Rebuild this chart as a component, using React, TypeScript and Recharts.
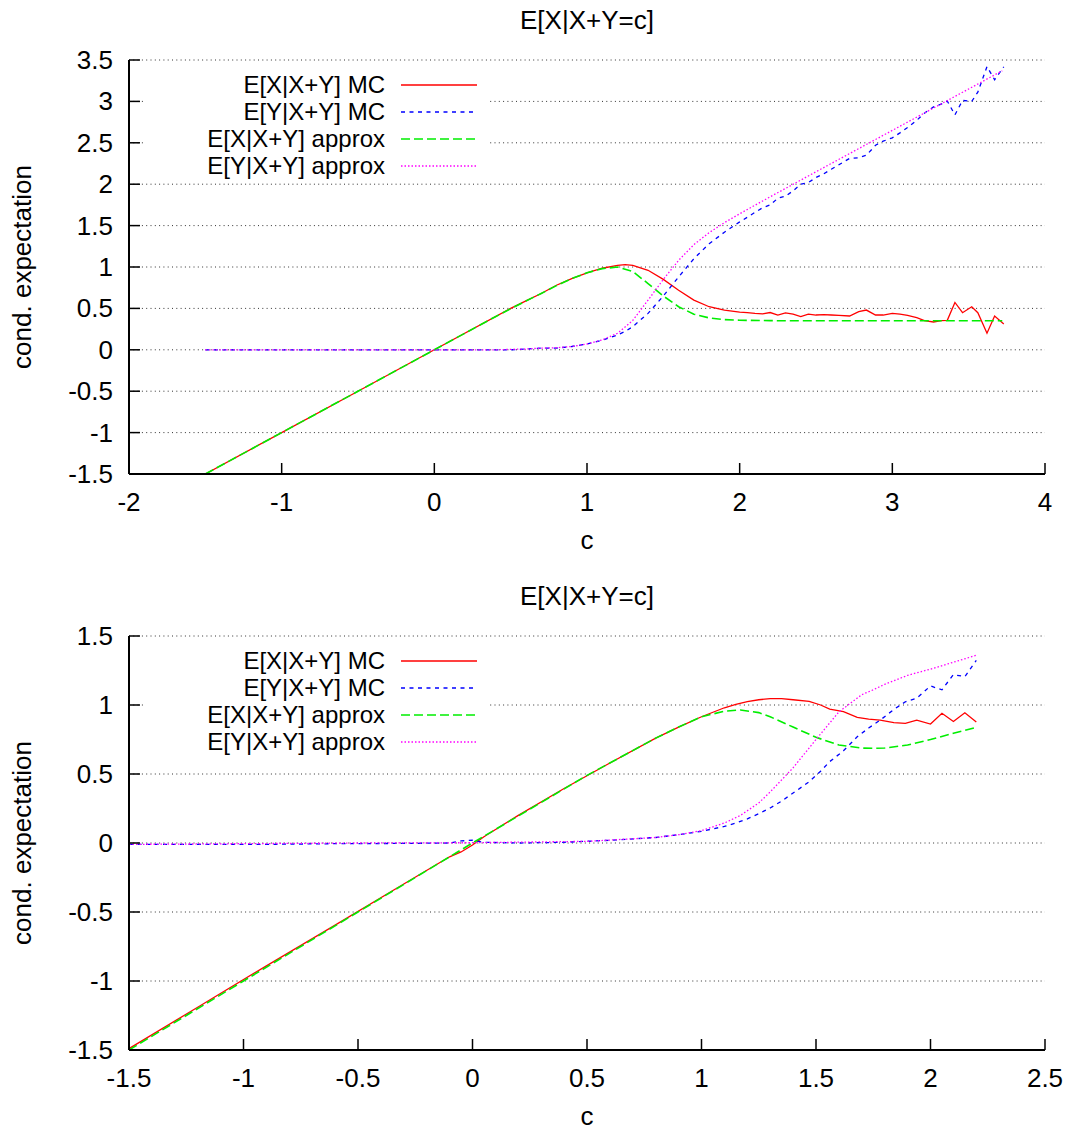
import React from "react";
import { LineChart, Line, XAxis, YAxis, CartesianGrid, Legend } from "recharts";

const FONT = '"Liberation Sans", Arial, Helvetica, sans-serif';
const FS = 26;
const KEY_FS = 24;
const KEY_ROW = 27;

const TITLE = "E[X|X+Y=c]";
const X_LABEL = "c";
const Y_LABEL = "cond. expectation";

// ---------- top panel: c from -1.5 to ~3.7
const topMcC = [
  -1.5, -1, -0.5, 0, 0.5, 0.6, 0.7, 0.8, 0.9, 1.0, 1.1, 1.2, 1.25, 1.3, 1.4,
  1.5, 1.6, 1.7, 1.8, 1.9, 2.0, 2.05, 2.1, 2.15, 2.2, 2.25, 2.3, 2.35, 2.4,
  2.45, 2.5, 2.55, 2.6, 2.65, 2.72, 2.78, 2.83, 2.89, 2.94, 3.0, 3.05, 3.1,
  3.16, 3.21, 3.27, 3.32, 3.36, 3.41, 3.46, 3.52, 3.56, 3.62, 3.67, 3.73,
];
const topXMc = [
  -1.5, -1, -0.5, 0, 0.5, 0.59, 0.68, 0.78, 0.86, 0.93, 0.985, 1.02, 1.028,
  1.02, 0.96, 0.85, 0.72, 0.6, 0.52, 0.48, 0.455, 0.45, 0.44, 0.435, 0.45,
  0.42, 0.445, 0.43, 0.4, 0.43, 0.42, 0.425, 0.42, 0.415, 0.408, 0.46, 0.48,
  0.42, 0.42, 0.44, 0.43, 0.416, 0.388, 0.352, 0.336, 0.352, 0.356, 0.572,
  0.448, 0.52, 0.448, 0.2, 0.408, 0.312,
];
const topYMc = [
  0, 0, 0, 0, 0, 0.01, 0.02, 0.02, 0.04, 0.07, 0.115, 0.18, 0.222, 0.28, 0.44,
  0.65, 0.88, 1.1, 1.28, 1.42, 1.545, 1.6, 1.66, 1.715, 1.75, 1.83, 1.855,
  1.92, 2.0, 2.02, 2.08, 2.125, 2.18, 2.235, 2.312, 2.32, 2.35, 2.47, 2.52,
  2.56, 2.62, 2.684, 2.772, 2.858, 2.934, 2.968, 3.004, 2.838, 3.012, 3.0,
  3.112, 3.42, 3.262, 3.418,
];
const topApproxC = [
  -1.5, -1, -0.5, 0, 0.4, 0.5, 0.6, 0.7, 0.8, 0.9, 1.0, 1.1, 1.2, 1.3, 1.4,
  1.5, 1.6, 1.7, 1.8, 1.9, 2.0, 2.2, 2.5, 3.0, 3.5, 3.72,
];
const topXApprox = [
  -1.5, -1, -0.5, 0, 0.4, 0.495, 0.59, 0.68, 0.775, 0.86, 0.93, 0.98, 1.0,
  0.945, 0.8, 0.65, 0.52, 0.43, 0.385, 0.365, 0.357, 0.352, 0.35, 0.35, 0.35,
  0.35,
];
const topYApprox = [
  0, 0, 0, 0, 0, 0.005, 0.01, 0.02, 0.025, 0.04, 0.07, 0.12, 0.2, 0.355, 0.6,
  0.85, 1.08, 1.27, 1.415, 1.535, 1.643, 1.848, 2.15, 2.65, 3.15, 3.37,
];
const topXTicks = [-2, -1, 0, 1, 2, 3, 4];
const topYTicks = [-1.5, -1, -0.5, 0, 0.5, 1, 1.5, 2, 2.5, 3, 3.5];

// ---------- bottom panel: c from -1.5 to 2.2
const botMcC = [
  -1.5, -1.2, -0.9, -0.6, -0.3, -0.1, -0.05, 0, 0.05, 0.2, 0.4, 0.6, 0.8, 0.9,
  1.0, 1.1, 1.15, 1.2, 1.25, 1.3, 1.35, 1.4, 1.47, 1.52, 1.56, 1.62, 1.68,
  1.73, 1.78, 1.84, 1.89, 1.94, 2.0, 2.05, 2.1, 2.15, 2.2,
];
const botXMc = [
  -1.49, -1.19, -0.89, -0.595, -0.297, -0.1, -0.065, -0.015, 0.045, 0.2,
  0.395, 0.58, 0.76, 0.84, 0.915, 0.98, 1.005, 1.025, 1.038, 1.046, 1.046,
  1.038, 1.026, 1.0, 0.97, 0.952, 0.91, 0.897, 0.89, 0.872, 0.867, 0.89,
  0.862, 0.94, 0.88, 0.944, 0.877,
];
const botYMc = [
  -0.01, -0.01, -0.01, -0.005, -0.003, 0, 0.015, 0.02, 0.005, 0, 0.005, 0.02,
  0.04, 0.06, 0.085, 0.12, 0.145, 0.175, 0.212, 0.254, 0.304, 0.362, 0.444,
  0.52, 0.59, 0.668, 0.77, 0.833, 0.89, 0.968, 1.023, 1.05, 1.138, 1.11, 1.22,
  1.206, 1.323,
];
const botApproxC = [
  -1.5, -1, -0.5, 0, 0.5, 0.8, 0.9, 1.0, 1.1, 1.17, 1.25, 1.3, 1.4, 1.5, 1.6,
  1.7, 1.75, 1.8, 1.9, 2.0, 2.1, 2.2,
];
const botXApprox = [
  -1.5, -1, -0.5, 0, 0.49, 0.76, 0.84, 0.915, 0.955, 0.964, 0.945, 0.915,
  0.84, 0.766, 0.71, 0.688, 0.686, 0.688, 0.71, 0.75, 0.795, 0.838,
];
const botYApprox = [
  -0.01, -0.005, 0, 0.002, 0.012, 0.04, 0.06, 0.09, 0.145, 0.2, 0.29, 0.37,
  0.545, 0.75, 0.95, 1.075, 1.11, 1.15, 1.215, 1.26, 1.31, 1.36,
];
const botXTicks = [-1.5, -1, -0.5, 0, 0.5, 1, 1.5, 2, 2.5];
const botYTicks = [-1.5, -1, -0.5, 0, 0.5, 1, 1.5];

type Pt = { c: number; x: number; y: number };
const rows = (cs: number[], xs: number[], ys: number[]): Pt[] =>
  cs.map((c, i) => ({ c, x: xs[i], y: ys[i] }));

type SeriesStyle = { name: string; color: string; width: number; dash?: string };
const S_XMC: SeriesStyle = { name: "E[X|X+Y] MC", color: "#ff0000", width: 1.3 };
const S_YMC: SeriesStyle = { name: "E[Y|X+Y] MC", color: "#0000ff", width: 1.3, dash: "4 4.5" };
const S_XAP: SeriesStyle = { name: "E[X|X+Y] approx", color: "#00ee00", width: 1.6, dash: "9 4" };
const S_YAP: SeriesStyle = { name: "E[Y|X+Y] approx", color: "#ff00ff", width: 1.3, dash: "1.5 2" };
const KEY_ORDER = [S_XMC, S_YMC, S_XAP, S_YAP];

// plot box, shared by both panels (panel-local coordinates)
const W = 1066;
const PLOT_L = 129;
const PLOT_R = 1045;
const PLOT_T = 60;
const PLOT_B = 474;
const Y_AXIS_W = 100;
const X_AXIS_H = 60;
const TICK = 11;

const txt = { fontFamily: FONT, fontSize: FS, fill: "#000" };

const LeftTick = (p: any) => (
  <g>
    <line x1={p.x} y1={p.y} x2={p.x + TICK} y2={p.y} stroke="#000" strokeWidth={1.5} />
    <text x={p.x - 16} y={p.y} textAnchor="end" dominantBaseline="central" {...txt}>
      {String(p.payload.value)}
    </text>
  </g>
);
const RightTick = (p: any) => (
  <line x1={p.x} y1={p.y} x2={p.x - TICK} y2={p.y} stroke="#000" strokeWidth={1.5} />
);
const BottomTick = (p: any) => (
  <g>
    <line x1={p.x} y1={p.y} x2={p.x} y2={p.y - TICK} stroke="#000" strokeWidth={1.5} />
    <text x={p.x} y={p.y + 28} textAnchor="middle" dominantBaseline="central" {...txt}>
      {String(p.payload.value)}
    </text>
  </g>
);
const TopTick = (p: any) => (
  <line x1={p.x} y1={p.y} x2={p.x} y2={p.y + TICK} stroke="#000" strokeWidth={1.5} />
);

// opaque key box, like gnuplot's "set key opaque"
const KeyBox = () => (
  <div style={{ background: "#fff", width: 345, fontFamily: FONT, fontSize: KEY_FS, color: "#000" }}>
    {KEY_ORDER.map((s) => (
      <div key={s.name} style={{ display: "flex", alignItems: "center", height: KEY_ROW }}>
        <span style={{ width: 240, textAlign: "right", whiteSpace: "nowrap", lineHeight: `${KEY_ROW}px` }}>
          {s.name}
        </span>
        <svg width={76} height={10} style={{ marginLeft: 16, display: "block" }}>
          <line x1={0} y1={5} x2={76} y2={5} stroke={s.color} strokeWidth={s.width} strokeDasharray={s.dash} />
        </svg>
      </div>
    ))}
  </div>
);

interface PanelProps {
  height: number;
  xTicks: number[];
  yTicks: number[];
  mc: Pt[];
  approx: Pt[];
}

const Panel = ({ height, xTicks, yTicks, mc, approx }: PanelProps) => {
  const xDom: [number, number] = [xTicks[0], xTicks[xTicks.length - 1]];
  const yDom: [number, number] = [yTicks[0], yTicks[yTicks.length - 1]];
  return (
    <div style={{ position: "relative", width: W, height }}>
      <div
        style={{
          position: "absolute",
          left: PLOT_L,
          width: PLOT_R - PLOT_L,
          top: 6,
          textAlign: "center",
          fontFamily: FONT,
          fontSize: FS,
          lineHeight: "28px",
        }}
      >
        {TITLE}
      </div>
      <LineChart
        width={W}
        height={height}
        margin={{
          top: PLOT_T,
          right: W - PLOT_R,
          bottom: height - PLOT_B - X_AXIS_H,
          left: PLOT_L - Y_AXIS_W,
        }}
      >
        <CartesianGrid horizontal vertical={false} stroke="#333" strokeDasharray="1 3.3" />
        <XAxis
          dataKey="c"
          type="number"
          domain={xDom}
          ticks={xTicks}
          interval={0}
          allowDataOverflow
          height={X_AXIS_H}
          tickSize={0}
          tickMargin={0}
          tickLine={false}
          axisLine={{ stroke: "#000", strokeWidth: 2 }}
          tick={(p: any) => <BottomTick {...p} />}
          label={({ viewBox }: any) => (
            <text
              x={viewBox.x + viewBox.width / 2}
              y={viewBox.y + 66}
              textAnchor="middle"
              dominantBaseline="central"
              {...txt}
            >
              {X_LABEL}
            </text>
          )}
        />
        <XAxis
          xAxisId="top"
          orientation="top"
          dataKey="c"
          type="number"
          domain={xDom}
          ticks={xTicks}
          interval={0}
          allowDataOverflow
          height={0}
          tickSize={0}
          tickMargin={0}
          tickLine={false}
          axisLine={{ stroke: "#000", strokeWidth: 2 }}
          tick={(p: any) => <TopTick {...p} />}
        />
        <YAxis
          type="number"
          domain={yDom}
          ticks={yTicks}
          interval={0}
          allowDataOverflow
          width={Y_AXIS_W}
          tickSize={0}
          tickMargin={0}
          tickLine={false}
          axisLine={{ stroke: "#000", strokeWidth: 2 }}
          tick={(p: any) => <LeftTick {...p} />}
          label={({ viewBox }: any) => {
            const cx = 22;
            const cy = viewBox.y + viewBox.height / 2;
            return (
              <text
                x={cx}
                y={cy}
                transform={`rotate(-90 ${cx} ${cy})`}
                textAnchor="middle"
                dominantBaseline="central"
                {...txt}
              >
                {Y_LABEL}
              </text>
            );
          }}
        />
        <YAxis
          yAxisId="right"
          orientation="right"
          type="number"
          domain={yDom}
          ticks={yTicks}
          interval={0}
          allowDataOverflow
          width={0}
          tickSize={0}
          tickMargin={0}
          tickLine={false}
          axisLine={{ stroke: "#000", strokeWidth: 2 }}
          tick={(p: any) => <RightTick {...p} />}
        />
        <Line
          data={mc}
          dataKey="x"
          name={S_XMC.name}
          type="linear"
          stroke={S_XMC.color}
          strokeWidth={S_XMC.width}
          dot={false}
          activeDot={false}
          isAnimationActive={false}
        />
        <Line
          data={mc}
          dataKey="y"
          name={S_YMC.name}
          type="linear"
          stroke={S_YMC.color}
          strokeWidth={S_YMC.width}
          strokeDasharray={S_YMC.dash}
          dot={false}
          activeDot={false}
          isAnimationActive={false}
        />
        <Line
          data={approx}
          dataKey="x"
          name={S_XAP.name}
          type="linear"
          stroke={S_XAP.color}
          strokeWidth={S_XAP.width}
          strokeDasharray={S_XAP.dash}
          dot={false}
          activeDot={false}
          isAnimationActive={false}
        />
        <Line
          data={approx}
          dataKey="y"
          name={S_YAP.name}
          type="linear"
          stroke={S_YAP.color}
          strokeWidth={S_YAP.width}
          strokeDasharray={S_YAP.dash}
          dot={false}
          activeDot={false}
          isAnimationActive={false}
        />
        <Legend
          layout="vertical"
          align="center"
          verticalAlign="middle"
          wrapperStyle={{ left: 145, top: 71, width: 345 }}
          content={() => <KeyBox />}
        />
      </LineChart>
    </div>
  );
};

export default function App() {
  return (
    <div
      style={{
        position: "absolute",
        left: 0,
        top: 0,
        width: W,
        height: 1130,
        overflow: "hidden",
        background: "#fff",
      }}
    >
      <Panel
        height={576}
        xTicks={topXTicks}
        yTicks={topYTicks}
        mc={rows(topMcC, topXMc, topYMc)}
        approx={rows(topApproxC, topXApprox, topYApprox)}
      />
      <Panel
        height={554}
        xTicks={botXTicks}
        yTicks={botYTicks}
        mc={rows(botMcC, botXMc, botYMc)}
        approx={rows(botApproxC, botXApprox, botYApprox)}
      />
    </div>
  );
}
